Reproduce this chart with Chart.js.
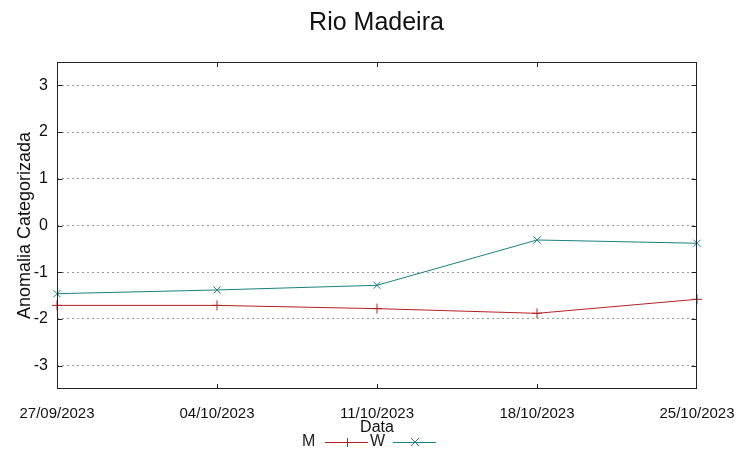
<!DOCTYPE html>
<html>
<head>
<meta charset="utf-8">
<script src="https://cdn.jsdelivr.net/npm/chart.js@4/dist/chart.umd.min.js"></script>
<style>
    html, body { margin: 0; padding: 0; background: #fff; }
    #wrap { width: 753px; height: 459px; }
</style>
</head>
<body>
<div id="wrap"><canvas id="graph"></canvas></div>
<script>
const DATES = ["27/09/2023", "04/10/2023", "11/10/2023", "18/10/2023", "25/10/2023"];
const M_VALUES = [-1.71, -1.71, -1.78, -1.88, -1.58];
const W_VALUES = [-1.46, -1.38, -1.28, -0.31, -0.38];
const Y_TICKS = [-3, -2, -1, 0, 1, 2, 3];
const TITLE = "Rio Madeira";
const X_LABEL = "Data";
const Y_LABEL = "Anomalia Categorizada";

const FONT = "'Liberation Sans', Arial, sans-serif";
const NARROW = "'Liberation Sans Narrow', 'Liberation Sans', Arial, sans-serif";

// gnuplot style frame, inward tick marks and the "M ---+--- W ---x---" key
const gnuplotFrame = {
    id: "gnuplotFrame",
    afterDatasetsDraw(chart) {
        const { ctx, chartArea: a, scales } = chart;
        const left = a.left + 0.5;
        const right = a.right - 0.5;
        ctx.save();
        ctx.strokeStyle = "#222";
        ctx.lineWidth = 1;
        ctx.strokeRect(left, a.top + 0.5, right - left, a.bottom - a.top - 1);
        ctx.beginPath();
        Y_TICKS.forEach((v) => {
            const y = Math.round(scales.y.getPixelForValue(v)) + 0.5;
            ctx.moveTo(left, y); ctx.lineTo(left + 5, y);
            ctx.moveTo(right, y); ctx.lineTo(right - 5, y);
        });
        DATES.forEach((d, i) => {
            let x = Math.round(scales.x.getPixelForValue(i)) + 0.5;
            x = Math.min(Math.max(x, left), right);
            ctx.moveTo(x, a.top); ctx.lineTo(x, a.top + 5);
            ctx.moveTo(x, a.bottom); ctx.lineTo(x, a.bottom - 5);
        });
        ctx.stroke();
        ctx.restore();
    },
    afterDraw(chart) {
        const { ctx, chartArea: a } = chart;
        const y = a.bottom + 53;
        const starts = [302, 370];
        ctx.save();
        chart.data.datasets.forEach((ds, i) => {
            const x0 = starts[i];
            ctx.fillStyle = "#222";
            ctx.font = "16px " + FONT;
            ctx.textAlign = "left";
            ctx.textBaseline = "middle";
            ctx.fillText(ds.label, x0, y);
            ctx.strokeStyle = ds.borderColor;
            ctx.lineWidth = 1;
            ctx.beginPath();
            ctx.moveTo(x0 + 23, y + 0.5);
            ctx.lineTo(x0 + 66, y + 0.5);
            ctx.stroke();
            const mx = x0 + 45;
            ctx.beginPath();
            if (ds.pointStyle === "cross") {
                ctx.moveTo(mx + 0.5, y - 4); ctx.lineTo(mx + 0.5, y + 5);
            } else {
                ctx.moveTo(mx - 4, y - 4); ctx.lineTo(mx + 4, y + 4);
                ctx.moveTo(mx - 4, y + 4); ctx.lineTo(mx + 4, y - 4);
            }
            ctx.stroke();
        });
        ctx.restore();
    },
};

new Chart(document.getElementById("graph"), {
    type: "line",
    data: {
        labels: DATES,
        datasets: [
            {
                label: "M",
                data: M_VALUES,
                borderColor: "#b22222",
                backgroundColor: "#b22222",
                borderWidth: 1,
                pointStyle: "cross",
                pointRadius: 5,
                pointBorderWidth: 1,
                tension: 0,
            },
            {
                label: "W",
                data: W_VALUES,
                borderColor: "#1a8080",
                backgroundColor: "#1a8080",
                borderWidth: 1,
                pointStyle: "crossRot",
                pointRadius: 5,
                pointBorderWidth: 1,
                tension: 0,
            },
        ],
    },
    options: {
        responsive: true,
        maintainAspectRatio: false,
        animation: false,
        layout: {
            padding: { left: 0, right: 0, top: 0, bottom: 22 },
        },
        plugins: {
            legend: { display: false },
            tooltip: { enabled: false },
            title: {
                display: true,
                text: TITLE,
                color: "#111",
                font: { family: FONT, size: 25, weight: "normal" },
                padding: { top: 8, bottom: 24 },
            },
        },
        scales: {
            x: {
                type: "category",
                offset: false,
                grid: { display: false, drawTicks: false },
                border: { display: false },
                ticks: {
                    color: "#111",
                    font: { family: NARROW, size: 15 },
                    maxRotation: 0,
                    autoSkip: false,
                    padding: 16,
                },
                title: {
                    display: true,
                    text: X_LABEL,
                    color: "#111",
                    font: { family: FONT, size: 16 },
                    padding: { top: 0, bottom: 0 },
                },
                afterFit: (scale) => { scale.height = 48; },
            },
            y: {
                min: -3.5,
                max: 3.5,
                afterBuildTicks: (scale) => {
                    scale.ticks = Y_TICKS.map((v) => ({ value: v }));
                },
                grid: {
                    color: "#999",
                    drawTicks: false,
                },
                border: { display: false, dash: [2, 3] },
                ticks: {
                    color: "#111",
                    font: { family: FONT, size: 16 },
                    padding: 9,
                },
                title: {
                    display: true,
                    text: Y_LABEL,
                    color: "#111",
                    font: { family: FONT, size: 18 },
                    padding: { top: 14, bottom: 0 },
                },
                afterFit: (scale) => { scale.width = 57; },
            },
            // empty right-hand axis that keeps the gnuplot right margin
            yRight: {
                position: "right",
                min: -3.5,
                max: 3.5,
                grid: { display: false, drawTicks: false },
                border: { display: false },
                ticks: { display: false },
                afterFit: (scale) => { scale.width = 56; },
            },
        },
    },
    plugins: [gnuplotFrame],
});
</script>
</body>
</html>
